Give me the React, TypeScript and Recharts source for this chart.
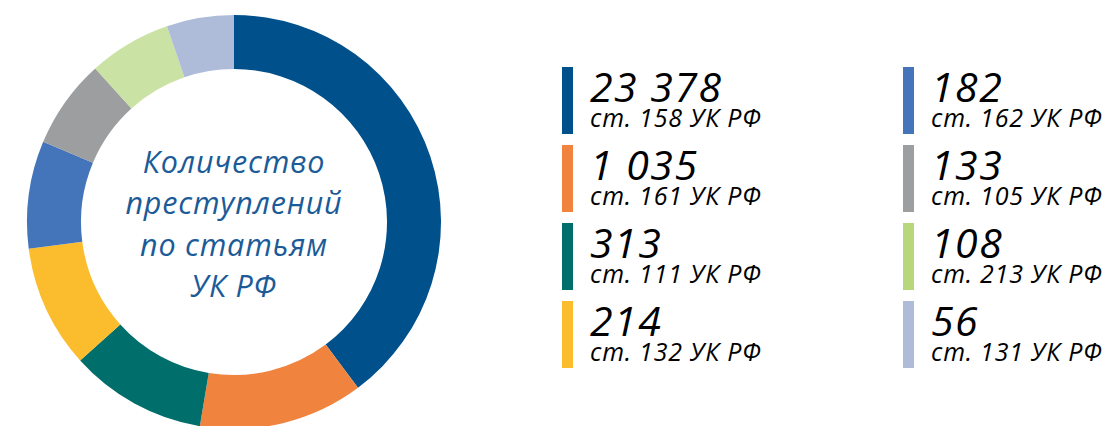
import { Cell, Pie, PieChart } from "recharts";

// legend values
const counts = ["23 378", "1 035", "313", "214", "182", "133", "108", "56"];
const articles = ["ст. 158 УК РФ", "ст. 161 УК РФ", "ст. 111 УК РФ", "ст. 132 УК РФ", "ст. 162 УК РФ", "ст. 105 УК РФ", "ст. 213 УК РФ", "ст. 131 УК РФ"];
// slice sizes as drawn (degrees of the ring), not proportional to the counts
const sliceShares = [143.2, 46.3, 38.5, 34.6, 30.2, 25.1, 23.2, 18.9];
const colors = ["#00508c", "#f0843f", "#006e6b", "#fbbd2e", "#4474ba", "#9d9e9f", "#cae2a3", "#aebcd9"];
const barColors = ["#00508c", "#f0843f", "#006e6b", "#fbbd2e", "#4474ba", "#9d9e9f", "#b6d87a", "#aebcd9"];
const centerLines = ["Количество", "преступлений", "по статьям", "УК РФ"];

const font = "'Open Sans', sans-serif";

export default function App() {
  const data = sliceShares.map((v, i) => ({ name: articles[i], value: v }));

  return (
    <div style={{ position: "absolute", left: 0, top: 0, width: 1107, height: 426, background: "#fff", overflow: "hidden", fontFamily: font }}>
      <PieChart width={470} height={426} margin={{ top: 0, right: 0, bottom: 0, left: 0 }}>
        <Pie
          data={data}
          dataKey="value"
          cx={234}
          cy={222}
          innerRadius={153}
          outerRadius={207}
          startAngle={90}
          endAngle={-270}
          stroke="none"
          isAnimationActive={false}
        >
          {data.map((d, i) => (
            <Cell key={d.name} fill={colors[i]} />
          ))}
        </Pie>
      </PieChart>

      <div style={{ position: "absolute", left: 84, top: 141, width: 300, textAlign: "center", color: "#1b5b97", fontStyle: "italic", fontSize: 30.5, letterSpacing: 0.8, lineHeight: "41.3px" }}>
        {centerLines.map((l) => (
          <div key={l}>{l}</div>
        ))}
      </div>

      {counts.map((c, i) => {
        const col = Math.floor(i / 4);
        const row = i % 4;
        const left = col === 0 ? 562 : 903;
        const top = 67 + row * 78;
        return (
          <div key={articles[i]} style={{ position: "absolute", left, top, height: 67 }}>
            <div style={{ position: "absolute", left: 0, top: 0, width: 11, height: 67, background: barColors[i] }} />
            <div style={{ position: "absolute", left: 28, top: -1, fontSize: 41, lineHeight: "40px", letterSpacing: 1.5, fontStyle: "italic", color: "#000", whiteSpace: "nowrap" }}>{c}</div>
            <div style={{ position: "absolute", left: 28, top: 39, fontSize: 25, lineHeight: "23px", letterSpacing: 0.8, fontStyle: "italic", color: "#000", whiteSpace: "nowrap" }}>{articles[i]}</div>
          </div>
        );
      })}
    </div>
  );
}
